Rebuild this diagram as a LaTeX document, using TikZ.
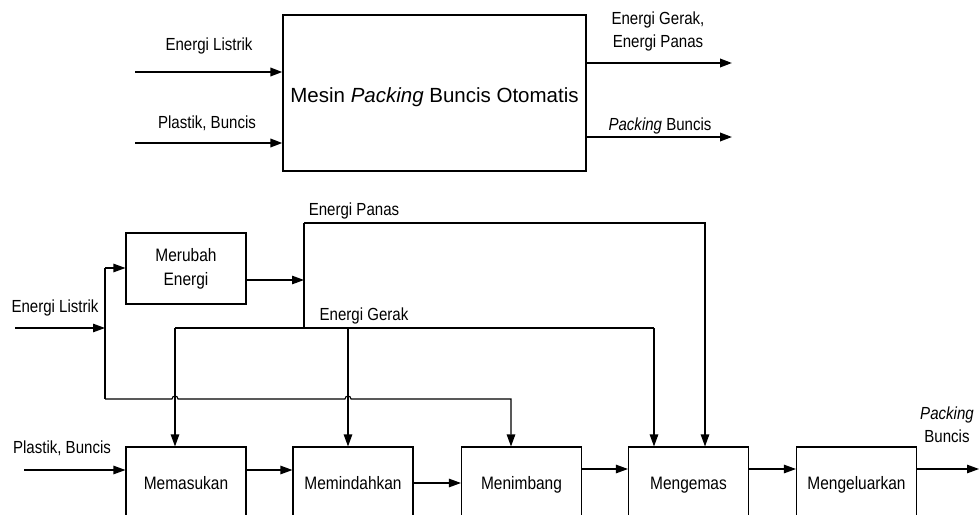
\documentclass[tikz,border=0pt]{standalone}
\usepackage{fontspec}
\setmainfont{Liberation Sans}
\newfontfamily\narrowfont[FakeStretch=0.86]{Liberation Sans}
\usetikzlibrary{arrows.meta,positioning}

\begin{document}
\begin{tikzpicture}[x=1pt,y=-1pt,
    >={Triangle[length=12pt,width=8.5pt]},
    blok/.style={draw,line width=1.1pt,minimum width=120pt,minimum height=72pt,inner sep=0pt,
      align=center,font=\narrowfont\fontsize{18}{24}\selectfont},
    proses/.style={blok,text height=16pt,text depth=4pt},
    lbl/.style={inner sep=0pt,anchor=base,align=center,font=\narrowfont\fontsize{17.5}{22.5}\selectfont},
    garis/.style={line width=1.1pt}]
  \useasboundingbox (0,0) rectangle (979,514);
  \clip (0,0) rectangle (979,514);

  % diagram blok mesin
  \node[draw,line width=1.3pt,minimum width=303pt,minimum height=156pt,inner sep=0pt,
    text height=20pt,text depth=2pt,font=\fontsize{20.5}{24}\selectfont] (mesin) at (434.5,93)
    {Mesin \textit{Packing} Buncis Otomatis};
  \coordinate (inL) at (135,72);
  \coordinate (inP) at (135,143);
  \coordinate (outG) at (732,63);
  \coordinate (outP) at (732,137);
  \draw[->,line width=2pt] (inL) -- (inL -| mesin.west);
  \draw[->,line width=2pt] (inP) -- (inP -| mesin.west);
  \draw[->,line width=2pt] (outG -| mesin.east) -- (outG);
  \draw[->,line width=2pt] (outP -| mesin.east) -- (outP);
  \node[lbl] (tL) at (209,50) {Energi Listrik};
  \node[lbl] (tP) at (207,128) {Plastik, Buncis};
  \node[lbl] (tG) at (658,47) {Energi Gerak,\\Energi Panas};
  \node[lbl] (tB) at (660,130) {\textit{Packing} Buncis};

  % diagram fungsi
  \node[blok,minimum height=71pt] (ubah) at (186,268.5) {Merubah\\Energi};
  \node[proses] (masuk) at (186,483) {Memasukan};
  \node[proses] (pindah) at (353,483) {Memindahkan};
  \node[proses] (timbang) at (521.5,483) {Menimbang};
  \node[proses] (kemas) at (688.5,483) {Mengemas};
  \node[proses] (keluar) at (856.5,483) {Mengeluarkan};

  \coordinate (listrikIn) at (15,328);
  \coordinate (listrikA) at (105,268);
  \coordinate (listrikB) at (105,399);
  \coordinate (listrikC) at (511,399);
  \coordinate (ubahOut) at (304,280);
  \coordinate (panasA) at (304,223);
  \coordinate (panasB) at (705,223);
  \coordinate (gerakA) at (175,328);
  \coordinate (gerakC) at (348,328);
  \coordinate (gerakB) at (654,328);
  \coordinate (plastikIn) at (24,470);
  \coordinate (hasilOut) at (979,469);

  \draw[garis,->] (listrikIn) -- (listrikIn -| listrikA);
  \draw[garis] (listrikA) -- (listrikB);
  \draw[garis,->] (listrikA) -- (listrikA -| ubah.west);
  \draw[garis,->] (ubahOut -| ubah.east) -- (ubahOut);
  \draw[garis] (panasA) -- (gerakA -| panasA);
  \draw[garis,->] (panasA) -- (panasB) -- (panasB |- kemas.north);
  \draw[garis] (gerakA) -- (gerakB);
  \draw[garis,->] (gerakA) -- (gerakA |- masuk.north);
  \draw[garis,->] (gerakC) -- (gerakC |- pindah.north);
  \draw[garis,->] (gerakB) -- (gerakB |- kemas.north);
  \draw[garis,->] (listrikB) -- ([xshift=-3pt]gerakA |- listrikB) arc (180:360:3)
    -- ([xshift=-3pt]gerakC |- listrikB) arc (180:360:3)
    -- (listrikC) -- (listrikC |- timbang.north);

  \draw[garis,->] (plastikIn) -- (plastikIn -| masuk.west);
  \draw[garis,->] ([yshift=13pt]masuk.east) -- ([yshift=13pt]pindah.west);
  \draw[garis,->] (pindah) -- (timbang);
  \draw[garis,->] ([yshift=14pt]timbang.east) -- ([yshift=14pt]kemas.west);
  \draw[garis,->] ([yshift=14pt]kemas.east) -- ([yshift=14pt]keluar.west);
  \draw[garis,->] ([yshift=14pt]keluar.east) -- (hasilOut);

  \node[lbl] (lListrik) at (55,312) {Energi Listrik};
  \node[lbl] (lPanas) at (354,215) {Energi Panas};
  \node[lbl] (lGerak) at (364,320) {Energi Gerak};
  \node[lbl] (lPlastik) at (62,453) {Plastik, Buncis};
  \node[lbl] (lHasil) at (947,442) {\textit{Packing}\\Buncis};
\end{tikzpicture}
\end{document}
